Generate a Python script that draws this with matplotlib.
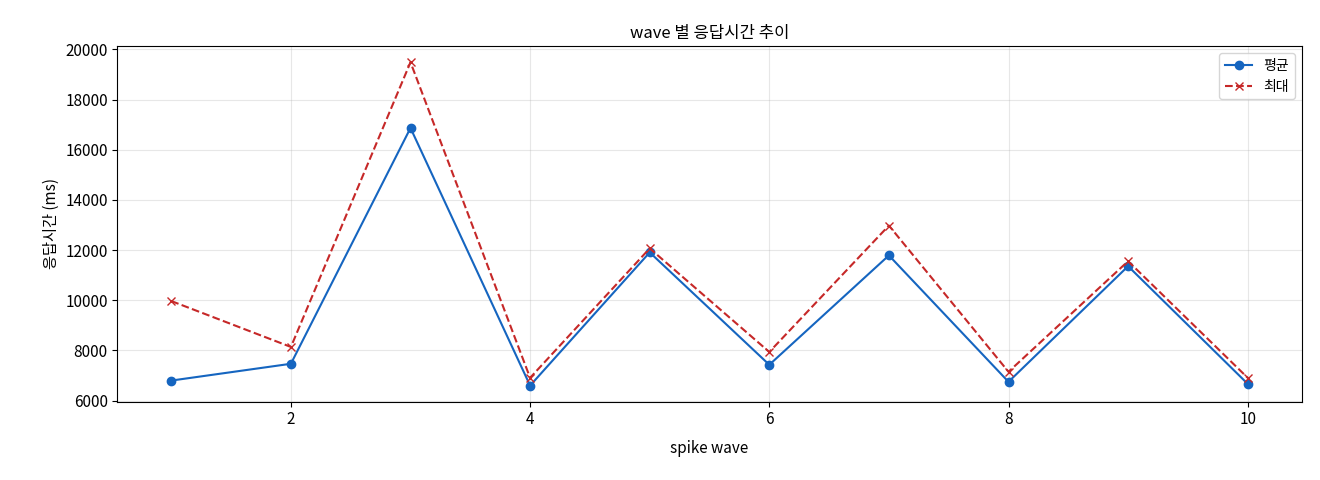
import matplotlib
matplotlib.use('Agg')
import matplotlib.pyplot as plt

plt.rcParams['font.family'] = ['Noto Sans CJK KR', 'DejaVu Sans']
plt.rcParams['axes.unicode_minus'] = False
plt.rcParams['font.size'] = 11

waves = [1, 2, 3, 4, 5, 6, 7, 8, 9, 10]
avg_ms = [6800, 7470, 16870, 6600, 11910, 7430, 11790, 6750, 11360, 6670]
max_ms = [9970, 8140, 19490, 6910, 12070, 7940, 12980, 7150, 11560, 6910]

fig, ax = plt.subplots(figsize=(13.2, 4.8), dpi=100)
ax.plot(waves, avg_ms, '-o', color='#1565c0', label='평균', markersize=6)
ax.plot(waves, max_ms, '--x', color='#c62828', label='최대', markersize=6)
ax.set_title('wave 별 응답시간 추이', fontsize=12)
ax.set_xlabel('spike wave', labelpad=8)
ax.set_ylabel('응답시간 (ms)')
ax.grid(True, alpha=0.3)
ax.legend(loc='upper right', fontsize=10)
fig.subplots_adjust(left=0.089, right=0.986, top=0.904, bottom=0.163)
fig.savefig('out.png', dpi=100)
